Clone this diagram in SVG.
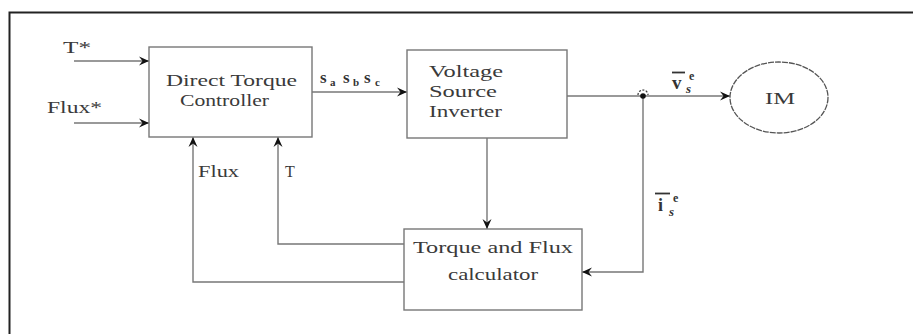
<svg xmlns="http://www.w3.org/2000/svg" width="913" height="334" viewBox="0 0 913 334">
<style>
.box{fill:#fff;stroke:#777;stroke-width:1.4}
.ln{fill:none;stroke:#777;stroke-width:1.4}
.t{font-family:"Liberation Serif","Times New Roman",serif;font-size:16px;fill:#3a3a3a}
.m{font-family:"Liberation Serif","Times New Roman",serif;font-weight:bold;fill:#333}
</style>
<defs>
<marker id="ah" markerUnits="userSpaceOnUse" markerWidth="11" markerHeight="10" refX="10" refY="5" orient="auto">
<path d="M0,0.5 L10,5 L0,9.5 L3.5,5 z" fill="#111"/>
</marker>
</defs>
<rect width="913" height="334" fill="#fff"/>
<path d="M9.5,334 V12.5 H913" fill="none" stroke="#222" stroke-width="2"/>

<g id="connectors">
<path class="ln" d="M74,61 H149" marker-end="url(#ah)"/>
<path class="ln" d="M74,123 H149" marker-end="url(#ah)"/>
<path class="ln" d="M312,92 H407" marker-end="url(#ah)"/>
<path class="ln" d="M567,96 H730" marker-end="url(#ah)"/>
<path class="ln" d="M487,138 V229" marker-end="url(#ah)"/>
<path class="ln" d="M643,96 V272 H582" marker-end="url(#ah)"/>
<path class="ln" d="M404,244 H278 V137" marker-end="url(#ah)"/>
<path class="ln" d="M404,282 H193 V137" marker-end="url(#ah)"/>
<circle cx="643" cy="96" r="2.8" fill="#111"/>
<path d="M638,95 A5,5 0 0 1 648,95" fill="none" stroke="#333" stroke-width="1.2" stroke-dasharray="2,1.5"/>
</g>

<g id="labels">
<text class="t" x="63" y="53" textLength="28" lengthAdjust="spacingAndGlyphs">T*</text>
<text class="t" x="47" y="113" textLength="55" lengthAdjust="spacingAndGlyphs">Flux*</text>
<text class="t" x="198" y="177" textLength="41" lengthAdjust="spacingAndGlyphs">Flux</text>
<text class="t" x="285" y="177">T</text>
<g id="sabc-label">
<text class="m" x="320" y="83" font-size="17">s</text>
<text class="m" x="330" y="86" font-size="11">a</text>
<text class="m" x="343" y="83" font-size="17">s</text>
<text class="m" x="353" y="86" font-size="11" font-weight="normal">b</text>
<text class="m" x="364" y="83" font-size="17">s</text>
<text class="m" x="375" y="86" font-size="11" font-weight="normal">c</text>
</g>
<g id="vs-label">
<line x1="672" y1="72.5" x2="685" y2="72.5" stroke="#333" stroke-width="1.8"/>
<text class="m" x="672" y="89" font-size="19">v</text>
<text class="m" x="689" y="80" font-size="12">e</text>
<text class="m" x="686" y="93" font-size="13" font-style="italic">s</text>
</g>
<g id="is-label">
<line x1="655" y1="193.5" x2="670" y2="193.5" stroke="#333" stroke-width="1.8"/>
<text class="m" x="658" y="211" font-size="18">i</text>
<text class="m" x="673" y="202" font-size="12">e</text>
<text class="m" x="669" y="216" font-size="13" font-style="italic">s</text>
</g>
</g>

<g id="dtc">
<rect class="box" x="149" y="47" width="163" height="90"/>
<text class="t" x="166" y="86" textLength="131" lengthAdjust="spacingAndGlyphs">Direct Torque</text>
<text class="t" x="180" y="106" textLength="89" lengthAdjust="spacingAndGlyphs">Controller</text>
</g>

<g id="vsi">
<rect class="box" x="407" y="50" width="160" height="88"/>
<text class="t" x="429" y="77" textLength="74" lengthAdjust="spacingAndGlyphs">Voltage</text>
<text class="t" x="429" y="97" textLength="68" lengthAdjust="spacingAndGlyphs">Source</text>
<text class="t" x="429" y="117" textLength="73" lengthAdjust="spacingAndGlyphs">Inverter</text>
</g>

<g id="im">
<ellipse cx="779" cy="97.5" rx="49" ry="35.5" fill="#fff" stroke="#555" stroke-width="1.3" stroke-dasharray="6,1"/>
<text class="t" x="765" y="104" textLength="30" lengthAdjust="spacingAndGlyphs">IM</text>
</g>

<g id="tfc">
<rect class="box" x="404" y="229" width="178" height="81"/>
<text class="t" x="413" y="253" textLength="160" lengthAdjust="spacingAndGlyphs">Torque and Flux</text>
<text class="t" x="448" y="280" textLength="90" lengthAdjust="spacingAndGlyphs">calculator</text>
</g>
</svg>
